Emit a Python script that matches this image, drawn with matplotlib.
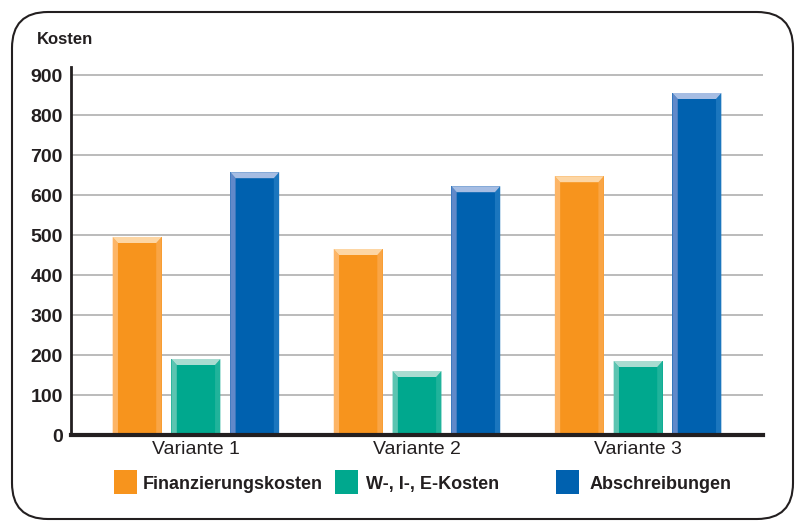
import numpy as np
import matplotlib.pyplot as plt
from matplotlib.patches import Rectangle, Polygon, FancyBboxPatch

plt.rcParams['font.family'] = ['Liberation Sans', 'DejaVu Sans']

# Data
varianten = ["Variante 1", "Variante 2", "Variante 3"]
serien = ["Finanzierungskosten", "W-, I-, E-Kosten", "Abschreibungen"]
finanzierung = [495, 465, 647]
wie_kosten = [190, 160, 185]
abschreibungen = [657, 622, 855]
yticks = [0, 100, 200, 300, 400, 500, 600, 700, 800, 900]

# colours: base, top cap, left edge, right edge
farben = [
    ("#F7941D", "#FDD6A4", "#FDB566", "#F9A545"),
    ("#00A88E", "#A9DCD1", "#5CC4B1", "#20B39B"),
    ("#0061AF", "#A6BDE3", "#6189C9", "#1B76BE"),
]

fig = plt.figure(figsize=(7.99, 5.23), dpi=100)
ax = fig.add_axes([71/799, 88/523, (763-71)/799, (435-67)/523])

x = np.arange(len(varianten))
breite = 0.221
abstand = 0.266
werte = [finanzierung, wie_kosten, abschreibungen]

cap_h = 15      # data units (~6 px)
edge_w = 0.024  # data units (~5 px)

for i, serie in enumerate(werte):
    base, cap, left, right = farben[i]
    bars = ax.bar(x + (i - 1) * abstand, serie, breite, color=base, zorder=3)
    for b in bars:
        x0, w, h = b.get_x(), b.get_width(), b.get_height()
        x1 = x0 + w
        # left edge
        ax.add_patch(Polygon([(x0, 0), (x0, h), (x0 + edge_w, h - cap_h), (x0 + edge_w, 0)],
                             closed=True, facecolor=left, edgecolor='none', zorder=4))
        # right edge
        ax.add_patch(Polygon([(x1, 0), (x1, h), (x1 - edge_w, h - cap_h), (x1 - edge_w, 0)],
                             closed=True, facecolor=right, edgecolor='none', zorder=4))
        # top cap
        ax.add_patch(Polygon([(x0, h), (x1, h), (x1 - edge_w, h - cap_h), (x0 + edge_w, h - cap_h)],
                             closed=True, facecolor=cap, edgecolor='none', zorder=4))

ax.set_xlim(-0.565, 2.565)
ax.set_ylim(0, 920)
ax.set_yticks(yticks)
ax.set_yticklabels([str(t) for t in yticks], fontsize=14, fontweight='bold', color='#231f20')
ax.set_xticks(x)
ax.set_xticklabels(varianten, fontsize=14, color='#231f20')
ax.tick_params(axis='both', length=0, pad=6)
ax.tick_params(axis='x', pad=4)
ax.yaxis.grid(True, color='#b5b5b5', linewidth=1.3, zorder=0)
ax.set_axisbelow(True)
for s in ['top', 'right']:
    ax.spines[s].set_visible(False)
ax.spines['left'].set_linewidth(2)
ax.spines['left'].set_color('#231f20')
ax.spines['bottom'].set_linewidth(3)
ax.spines['bottom'].set_color('#231f20')
ax.spines['bottom'].set_zorder(5)

# title
fig.text(37/799, 1 - 40/523, "Kosten", fontsize=12, fontweight='bold', color='#231f20', va='center')

# legend
leg_x = [114, 335, 556]
txt_x = [143, 366, 590]
for i, name in enumerate(serien):
    fig.patches.append(Rectangle((leg_x[i]/799, 1 - 494/523), 23/799, 24/523,
                                 transform=fig.transFigure, facecolor=farben[i][0],
                                 edgecolor='none'))
    fig.text(txt_x[i]/799, 1 - 489/523, name, fontsize=13, fontweight='bold',
             color='#231f20', va='baseline')

# rounded frame
fig.patches.append(FancyBboxPatch((12/799, 4/523), (793-12)/799, (511-4)/523,
                                  boxstyle="round,pad=0,rounding_size=0.045",
                                  transform=fig.transFigure, facecolor='none',
                                  edgecolor='#231f20', linewidth=1.5,
                                  mutation_aspect=799/523))

fig.savefig("out.png", dpi=100)
